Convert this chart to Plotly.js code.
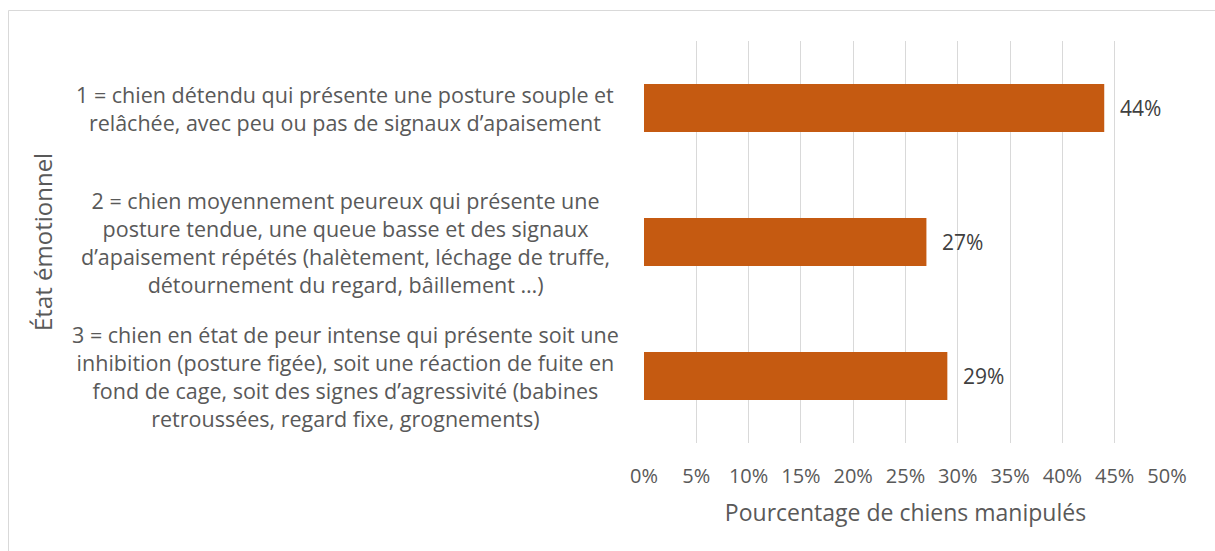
<!DOCTYPE html>
<html>
<head>
<meta charset="utf-8">
<script src="https://cdn.plot.ly/plotly-3.0.1.min.js"></script>
<style>html,body{margin:0;padding:0;background:#fff;}#chart{width:1215px;height:551px;}</style>
</head>
<body>
<div id="chart"></div>
<script>
// ---- data ----
const categories = [
  "1 = chien détendu qui présente une posture souple et<br>relâchée, avec peu ou pas de signaux d’apaisement",
  "2 = chien moyennement peureux qui présente une<br>posture tendue, une queue basse et des signaux<br>d’apaisement répétés (halètement, léchage de truffe,<br>détournement du regard, bâillement …)",
  "3 = chien en état de peur intense qui présente soit une<br>inhibition (posture figée), soit une réaction de fuite en<br>fond de cage, soit des signes d’agressivité (babines<br>retroussées, regard fixe, grognements)"
];
const values = [0.44, 0.27, 0.29];
const xTitle = "Pourcentage de chiens manipulés";
const yTitle = "État émotionnel";

const FONT = "Open Sans, Noto Sans, sans-serif";
const W = 1215, H = 551;
const L = 644, R = 48, T = 41, B = 108;
const PW = W - L - R, PH = H - T - B;
const px = p => (p - L) / PW;
const py = p => (H - B - p) / PH;

const annotations = [];
categories.forEach(c => {
  annotations.push({
    xref: 'paper', yref: 'y', x: px(345), y: c, xanchor: 'center', yanchor: 'middle',
    text: c, showarrow: false, align: 'center',
    font: {family: FONT, size: 21.5, color: '#595959'}
  });
});
values.forEach((v, i) => {
  annotations.push({
    xref: 'x', yref: 'y', x: v, y: categories[i], xanchor: 'left', yanchor: 'middle',
    xshift: 14, text: Math.round(v * 100) + '%', showarrow: false,
    font: {family: FONT, size: 21, color: '#404040'}
  });
});
annotations.push({
  xref: 'paper', yref: 'paper', x: px(42), y: 0.5, xanchor: 'center', yanchor: 'middle',
  text: yTitle, textangle: -90, showarrow: false,
  font: {family: FONT, size: 24, color: '#595959'}
});

const trace = {
  type: 'bar', orientation: 'h', x: values, y: categories,
  marker: {color: '#C55A11'}, hoverinfo: 'x', cliponaxis: false
};

const layout = {
  width: W, height: H,
  margin: {l: L, r: R, t: T, b: B, pad: 0},
  paper_bgcolor: '#ffffff', plot_bgcolor: '#ffffff',
  bargap: 0.642,
  showlegend: false,
  font: {family: FONT, color: '#595959'},
  xaxis: {
    range: [0, 0.5], dtick: 0.05, tick0: 0, tickformat: '.0%',
    showgrid: true, gridcolor: '#d9d9d9', gridwidth: 1,
    zeroline: false, showline: false, ticks: '',
    ticklabelstandoff: 19,
    tickfont: {family: FONT, size: 20, color: '#595959'},
    title: {text: xTitle, font: {family: FONT, size: 23, color: '#595959'}, standoff: 16},
    automargin: false, fixedrange: true
  },
  yaxis: {
    type: 'category', autorange: 'reversed',
    showticklabels: false, showgrid: false, zeroline: false, showline: false, ticks: '',
    automargin: false, fixedrange: true
  },
  shapes: [{
    type: 'rect', xref: 'paper', yref: 'paper',
    x0: px(8.5), x1: px(1240), y0: py(10.5), y1: py(580),
    line: {color: '#d9d9d9', width: 1}, fillcolor: 'rgba(0,0,0,0)', layer: 'below'
  }],
  annotations: annotations
};

Plotly.newPlot('chart', [trace], layout, {displayModeBar: false, staticPlot: true});
</script>
</body>
</html>
